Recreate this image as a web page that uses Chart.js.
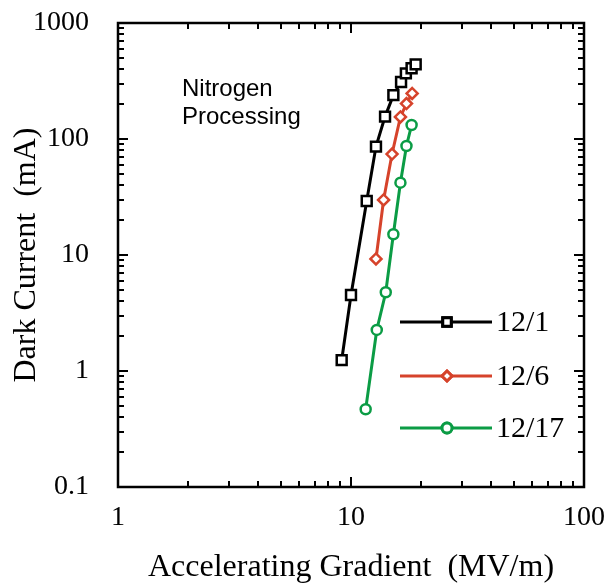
<!DOCTYPE html>
<html>
<head>
<meta charset="utf-8">
<script src="https://cdn.jsdelivr.net/npm/chart.js@4.4.1/dist/chart.umd.min.js"></script>
<style>
  body { margin: 0; background: #fff; }
  #wrap { width: 605px; height: 586px; }
</style>
</head>
<body>
<div id="wrap"><canvas id="dark-current"></canvas></div>
<script>
// series 12/1
const dec1Gradient = [9.12, 10.0, 11.68, 12.8, 14.0, 15.2, 16.4, 17.2, 18.2, 18.95];
const dec1Current = [1.24, 4.52, 29.2, 86, 156, 239, 310, 368, 407, 440];
// series 12/6
const dec6Gradient = [12.8, 13.8, 15.0, 16.3, 17.3, 18.3];
const dec6Current = [9.24, 29.8, 74.2, 155, 202, 247];
// series 12/17
const dec17Gradient = [11.56, 12.9, 14.1, 15.2, 16.3, 17.3, 18.2];
const dec17Current = [0.468, 2.26, 4.77, 15.1, 42, 87, 132];

const seriesNames = ["12/1", "12/6", "12/17"];
const xTickValues = [1, 10, 100];
const yTickValues = [0.1, 1, 10, 100, 1000];

const black = "#000000";
const red = "#d6432b";
const green = "#0b9c45";

const toPoints = (xs, ys) => xs.map((x, i) => ({ x: x, y: ys[i] }));

//frame, inside ticks, legend and note
const framePlugin = {
  id: "frame",
  afterDraw(chart) {
    const ctx = chart.ctx;
    const area = chart.chartArea;
    const xs = chart.scales.x;
    const ys = chart.scales.y;
    ctx.save();
    ctx.strokeStyle = "#000";
    ctx.lineWidth = 2;
    ctx.beginPath();
    // x ticks, bottom and top
    for (let d = 1; d < 100; d *= 10) {
      for (let m = 1; m <= 10; m++) {
        const v = d * m;
        const px = Math.round(xs.getPixelForValue(v));
        const len = m === 1 || m === 10 ? 10 : 6;
        ctx.moveTo(px, area.bottom);
        ctx.lineTo(px, area.bottom - len);
        ctx.moveTo(px, area.top);
        ctx.lineTo(px, area.top + len);
      }
    }
    // y ticks, left and right
    for (let d = 0.1; d < 1000; d *= 10) {
      for (let m = 1; m <= 10; m++) {
        const v = d * m;
        const py = Math.round(ys.getPixelForValue(v));
        const len = m === 1 || m === 10 ? 10 : 6;
        ctx.moveTo(area.left, py);
        ctx.lineTo(area.left + len, py);
        ctx.moveTo(area.right, py);
        ctx.lineTo(area.right - len, py);
      }
    }
    ctx.stroke();
    ctx.lineWidth = 2.5;
    ctx.strokeRect(area.left, area.top, area.right - area.left, area.bottom - area.top);

    // legend
    const rows = [322, 376, 428];
    chart.data.datasets.forEach((ds, i) => {
      const y = rows[i];
      ctx.strokeStyle = ds.borderColor;
      ctx.lineWidth = 3;
      ctx.beginPath();
      ctx.moveTo(400, y);
      ctx.lineTo(492, y);
      ctx.stroke();
      Chart.helpers.drawPoint(ctx, {
        pointStyle: ds.pointStyle,
        radius: ds.pointStyle === "rect" ? 6 : 5,
        borderWidth: 2.5
      }, 447, y);
      ctx.fillStyle = "#fff";
      ctx.fill();
      ctx.stroke();
      ctx.fillStyle = "#000";
      ctx.font = "30px 'Liberation Serif'";
      ctx.textAlign = "left";
      ctx.textBaseline = "middle";
      ctx.fillText(seriesNames[i], 496, y + 1);
    });

    // note
    ctx.fillStyle = "#000";
    ctx.font = "24px 'Liberation Sans'";
    ctx.textAlign = "left";
    ctx.textBaseline = "middle";
    ctx.fillText("Nitrogen", 182, 89);
    ctx.fillText("Processing", 182, 117);
    ctx.restore();
  }
};

const makeSet = (name, xs, ys, color, style, radius) => ({
  label: name,
  data: toPoints(xs, ys),
  showLine: true,
  borderColor: color,
  borderWidth: 3,
  backgroundColor: "#fff",
  pointStyle: style,
  pointRadius: radius,
  pointBorderWidth: 2.5,
  pointBackgroundColor: "#fff",
  pointBorderColor: color
});

document.addEventListener("DOMContentLoaded", () => {
  const canvas = document.getElementById("dark-current").getContext("2d");

  new Chart(canvas, {
    type: "scatter",
    data: {
      datasets: [
        makeSet(seriesNames[0], dec1Gradient, dec1Current, black, "rect", 7),
        makeSet(seriesNames[1], dec6Gradient, dec6Current, red, "rectRot", 5.5),
        makeSet(seriesNames[2], dec17Gradient, dec17Current, green, "circle", 5)
      ]
    },
    options: {
      responsive: true,
      maintainAspectRatio: false,
      animation: false,
      layout: { padding: { top: 23, right: 21, left: 0, bottom: 0 } },
      plugins: {
        legend: { display: false },
        tooltip: { enabled: false }
      },
      scales: {
        x: {
          type: "logarithmic",
          min: 1,
          max: 100,
          afterBuildTicks: (scale) => {
            scale.ticks = xTickValues.map((v) => ({ value: v }));
          },
          afterFit: (scale) => {
            scale.height = 99;
            scale.paddingLeft = 0;
            scale.paddingRight = 0;
          },
          grid: { display: false },
          border: { display: false },
          ticks: {
            color: "#000",
            padding: 6,
            maxRotation: 0,
            autoSkip: false,
            font: { family: "'Liberation Serif'", size: 28 },
            callback: (v) => String(v)
          },
          title: {
            display: true,
            text: "Accelerating Gradient  (MV/m)",
            color: "#000",
            font: { family: "'Liberation Serif'", size: 32, lineHeight: 1 },
            padding: { top: 0, bottom: 2 }
          }
        },
        y: {
          type: "logarithmic",
          min: 0.1,
          max: 1000,
          afterBuildTicks: (scale) => {
            scale.ticks = yTickValues.map((v) => ({ value: v }));
          },
          afterFit: (scale) => {
            scale.width = 118;
            scale.paddingTop = 0;
            scale.paddingBottom = 0;
          },
          grid: { display: false },
          border: { display: false },
          ticks: {
            color: "#000",
            padding: 21,
            autoSkip: false,
            font: { family: "'Liberation Serif'", size: 28 },
            callback: (v) => String(v)
          },
          title: {
            display: true,
            text: "Dark Current  (mA)",
            color: "#000",
            font: { family: "'Liberation Serif'", size: 32, lineHeight: 1 },
            padding: { top: 11, bottom: 0 }
          }
        }
      }
    },
    plugins: [framePlugin]
  });
});
</script>
</body>
</html>
